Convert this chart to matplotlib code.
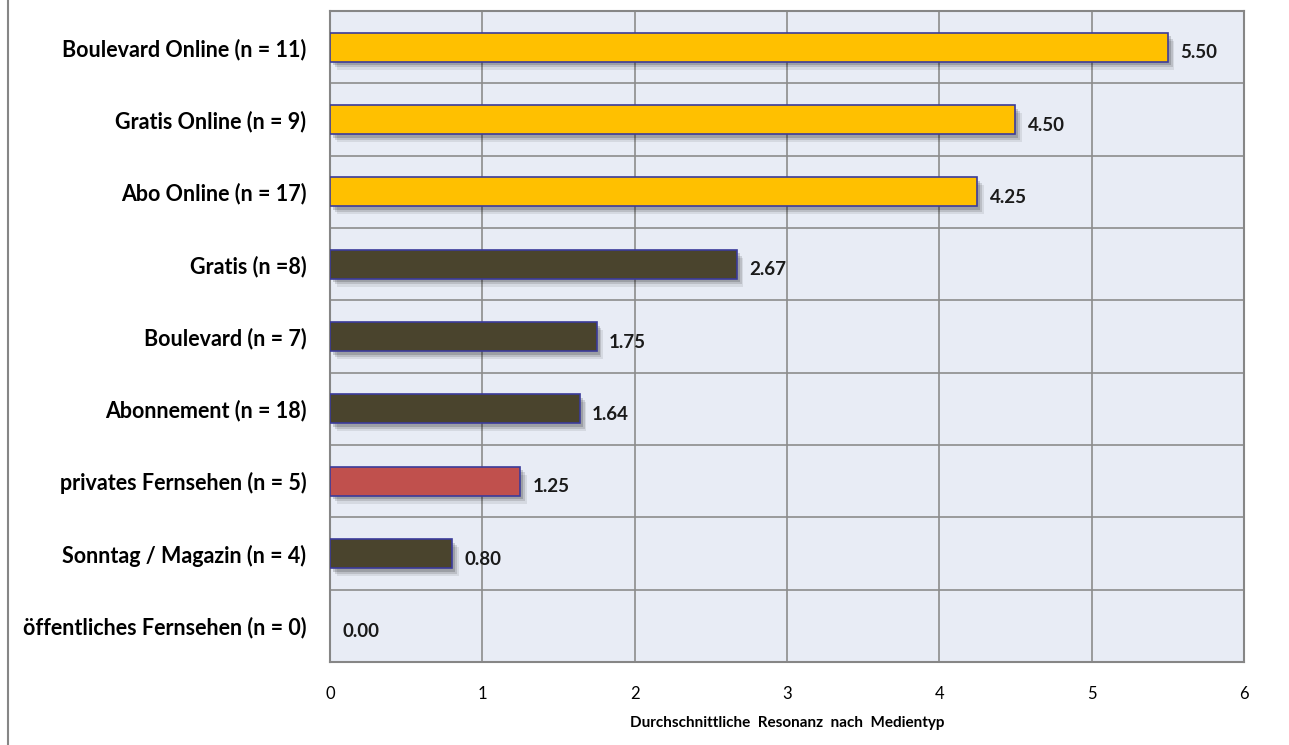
import numpy as np
import matplotlib.pyplot as plt
from matplotlib.lines import Line2D

plt.rcParams['font.family'] = ['Lato', 'DejaVu Sans']

# %% data (top to bottom)
categories = [
    "Boulevard Online (n = 11)",
    "Gratis Online (n = 9)",
    "Abo Online (n = 17)",
    "Gratis (n =8)",
    "Boulevard (n = 7)",
    "Abonnement (n = 18)",
    "privates Fernsehen (n = 5)",
    "Sonntag / Magazin (n = 4)",
    "öffentliches Fernsehen (n = 0)",
]
values = [5.50, 4.50, 4.25, 2.67, 1.75, 1.64, 1.25, 0.80, 0.00]
groups = ["online", "online", "online", "print", "print", "print", "tv", "print", "tv"]
group_colors = {"online": "#FFC000", "print": "#4A442D", "tv": "#C0504D"}
xticks = [0, 1, 2, 3, 4, 5, 6]
xlabel = "Durchschnittliche  Resonanz  nach  Medientyp"

# %% plot
fig = plt.figure(figsize=(12.89, 7.45), dpi=100)
ax = fig.add_axes([0.256, 0.1114, 0.709, 0.8738])
ax.set_facecolor("#E8ECF5")

y = np.arange(len(categories))
colors = [group_colors[g] for g in groups]
edge_w = [1.2 if v > 0 else 0 for v in values]

# soft drop shadow, then bars
for off, a in [(0.11, 0.08), (0.08, 0.12), (0.05, 0.16)]:
    ax.barh(y + off, values, height=0.40, left=off * 0.4, color="#000000",
            alpha=a, linewidth=0, zorder=2)
ax.barh(y, values, height=0.40, color=colors, edgecolor="#3B3B9A",
        linewidth=edge_w, zorder=3)

for yi, v in zip(y, values):
    ax.text(v + 0.08, yi + 0.08, f"{v:.2f}", va="center", ha="left",
            fontsize=13.5, fontweight="bold", color="#1a1a1a", zorder=4)

ax.set_xlim(0, 6)
ax.set_ylim(len(categories) - 0.5, -0.5)
ax.set_xticks(xticks)
ax.set_xticklabels([str(t) for t in xticks], fontsize=12)
ax.set_yticks(y)
ax.set_yticklabels(categories, fontsize=15.5, fontweight="bold")
ax.set_yticks(np.arange(len(categories) + 1) - 0.5, minor=True)

ax.tick_params(axis="y", which="both", length=0, pad=17)
ax.tick_params(axis="x", length=0, pad=17)

ax.grid(axis="x", color="#8C8C8C", linewidth=1.2, zorder=1)
ax.grid(axis="y", which="minor", color="#8C8C8C", linewidth=1.2, zorder=1)
ax.set_axisbelow(True)
for s in ax.spines.values():
    s.set_color("#868686")
    s.set_linewidth(1.5)

ax.set_xlabel(xlabel, fontsize=11, fontweight="bold", labelpad=10)

# outer chart border on the left
fig.add_artist(Line2D([0.0065, 0.0065], [0, 1], transform=fig.transFigure,
                      color="#868686", linewidth=1.5))

fig.savefig("out.png", dpi=100)
